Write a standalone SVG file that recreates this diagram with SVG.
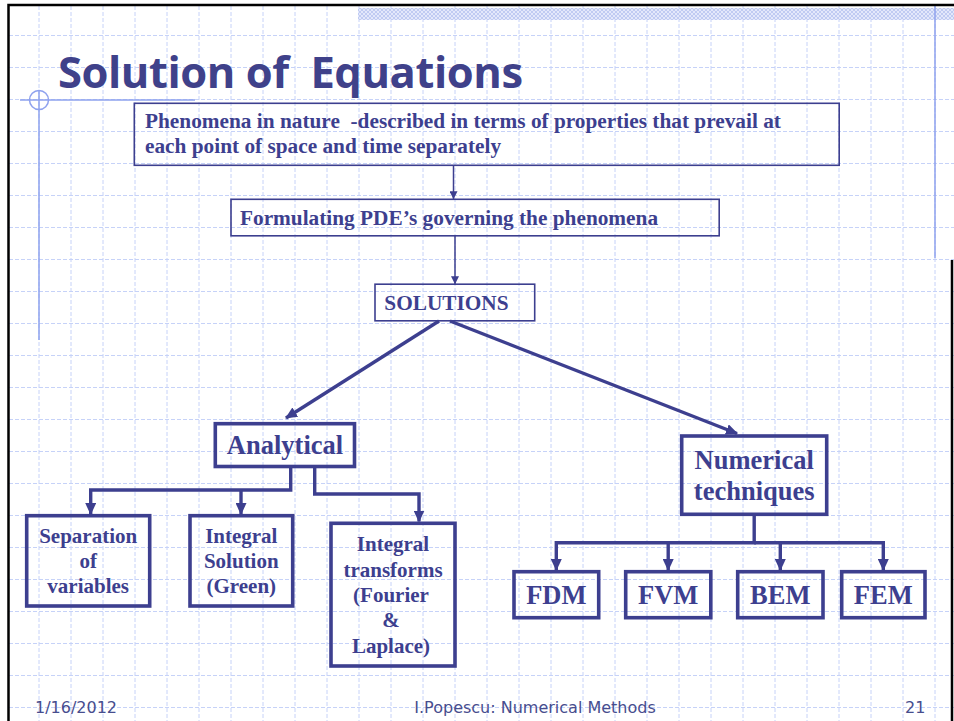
<svg xmlns="http://www.w3.org/2000/svg" width="954" height="721" viewBox="0 0 954 721">
  <style>
    text { white-space: pre; }
    .grid { fill: none; stroke: #c6d2f8; stroke-width: 1; stroke-dasharray: 4 2; }
    .deco { fill: none; stroke: #8fa2ee; stroke-width: 1.5; }
    .frame { fill: none; stroke: #000; stroke-width: 2.5; }
    .title { font-family: "Open Sans", "DejaVu Sans", sans-serif; font-weight: bold; font-size: 43.5px; fill: #3f418a; }
    .box-thin { fill: none; stroke: #3d3f8f; stroke-width: 1.6; }
    .box-thick { fill: none; stroke: #3d3f8f; stroke-width: 3.6; }
    .txt { font-family: "Liberation Serif", "Times New Roman", serif; font-weight: bold; font-size: 21px; fill: #3d3f8f; }
    .wide { font-size: 21.3px; }
    .big { font-size: 26.5px; }
    .mid { text-anchor: middle; }
    .link-thin { fill: none; stroke: #3d3f8f; stroke-width: 1.5; }
    .link-thick { fill: none; stroke: #3d3f8f; stroke-width: 3.4; }
    .foot { font-family: "DejaVu Sans", Verdana, sans-serif; font-size: 16px; fill: #474d8e; }
  </style>
  <defs>
    <pattern id="hatch" width="4" height="4" patternUnits="userSpaceOnUse">
      <rect width="4" height="4" fill="#e3e8fb"/>
      <path d="M0,0 L4,4 M4,0 L0,4" stroke="#b8c4f0" stroke-width="0.8"/>
    </pattern>
    <marker id="headThin" markerUnits="userSpaceOnUse" markerWidth="8" markerHeight="8" refX="8" refY="4" orient="auto">
      <path d="M0,0 L8,4 L0,8 z" fill="#3d3f8f"/>
    </marker>
    <marker id="headThick" markerUnits="userSpaceOnUse" markerWidth="12" markerHeight="11" refX="11" refY="5.5" orient="auto">
      <path d="M0,0 L12,5.5 L0,11 z" fill="#3d3f8f"/>
    </marker>
  </defs>

  <rect width="954" height="721" fill="#ffffff"/>

  <!-- graph-paper background -->
  <path class="grid" d="M39,6V721 M71,6V721 M103,6V721 M135,6V721 M167,6V721 M199,6V721 M231,6V721 M263,6V721 M295,6V721 M327,6V721 M359,6V721 M391,6V721 M423,6V721 M455,6V721 M487,6V721 M519,6V721 M551,6V721 M583,6V721 M615,6V721 M647,6V721 M679,6V721 M711,6V721 M743,6V721 M775,6V721 M807,6V721 M839,6V721 M871,6V721 M903,6V721 M935,6V721"/>
  <path class="grid" d="M9,35.5H954 M9,67.5H954 M9,99.5H954 M9,131.5H954 M9,163.5H954 M9,195.5H954 M9,227.5H954 M9,259.5H954 M9,291.5H954 M9,323.5H954 M9,355.5H954 M9,387.5H954 M9,419.5H954 M9,451.5H954 M9,483.5H954 M9,515.5H954 M9,547.5H954 M9,579.5H954 M9,611.5H954 M9,643.5H954 M9,675.5H954 M9,707.5H954"/>

  <!-- template ornaments -->
  <rect x="358" y="8" width="596" height="12" fill="url(#hatch)"/>
  <path class="deco" d="M935,6V258"/>
  <path class="deco" d="M20,100H195 M39,91V340"/>
  <circle class="deco" cx="39" cy="100" r="9.5"/>

  <!-- slide frame -->
  <path class="frame" d="M8.5,721V5H954"/>
  <path class="frame" d="M952,260V721"/>

  <text class="title" x="58" y="88" textLength="465" lengthAdjust="spacing" xml:space="preserve">Solution of  Equations</text>

  <!-- connectors -->
  <g id="connectors">
    <path class="link-thin" d="M453.5,165.3V199.3" marker-end="url(#headThin)"/>
    <path class="link-thin" d="M455,235.8V284.2" marker-end="url(#headThin)"/>
    <path class="link-thick" d="M439,321L286,418" marker-end="url(#headThick)"/>
    <path class="link-thick" d="M450,321L737,433.5" marker-end="url(#headThick)"/>
    <path class="link-thick" d="M290.7,466.5V490H90.7V514" marker-end="url(#headThick)"/>
    <path class="link-thick" d="M241,490V514" marker-end="url(#headThick)"/>
    <path class="link-thick" d="M314.7,466.5V494H419V521.5" marker-end="url(#headThick)"/>
    <path class="link-thick" d="M754.2,514.3V542.7H556.3V570" marker-end="url(#headThick)"/>
    <path class="link-thick" d="M754.2,542.7H883.3V570" marker-end="url(#headThick)"/>
    <path class="link-thick" d="M668.2,542.7V570" marker-end="url(#headThick)"/>
    <path class="link-thick" d="M780.3,542.7V570" marker-end="url(#headThick)"/>
  </g>

  <!-- nodes -->
  <g id="phenomena">
    <rect class="box-thin" x="134.3" y="103.3" width="704.9" height="62"/>
    <text class="txt wide" x="145" y="128.3" xml:space="preserve">Phenomena in nature  -described in terms of properties that prevail at</text>
    <text class="txt wide" x="145" y="153">each point of space and time separately</text>
  </g>
  <g id="formulating">
    <rect class="box-thin" x="231" y="199.3" width="488.2" height="36.5"/>
    <text class="txt wide" x="240" y="225">Formulating PDE’s governing the phenomena</text>
  </g>
  <g id="solutions">
    <rect class="box-thin" x="375" y="284.2" width="159.7" height="36.6"/>
    <text class="txt wide" x="384.3" y="310">SOLUTIONS</text>
  </g>
  <g id="analytical">
    <rect class="box-thick" x="215.3" y="423.7" width="139.2" height="42.8"/>
    <text class="txt big mid" x="285" y="454">Analytical</text>
  </g>
  <g id="separation">
    <rect class="box-thick" x="26.7" y="515.7" width="123" height="90.3"/>
    <text class="txt mid" x="88.2" y="543.3">Separation</text>
    <text class="txt mid" x="88.2" y="568.3">of</text>
    <text class="txt mid" x="88.2" y="593.3">variables</text>
  </g>
  <g id="integral-solution">
    <rect class="box-thick" x="190" y="515.7" width="102.7" height="90.3"/>
    <text class="txt mid" x="241.3" y="542.7">Integral</text>
    <text class="txt mid" x="241.3" y="568.3">Solution</text>
    <text class="txt mid" x="241.3" y="593.3">(Green)</text>
  </g>
  <g id="integral-transforms">
    <rect class="box-thick" x="331" y="523.3" width="124" height="142.7"/>
    <text class="txt mid" x="393" y="550.7">Integral</text>
    <text class="txt mid" x="393" y="576.7">transforms</text>
    <text class="txt mid" x="391" y="601.7">(Fourier</text>
    <text class="txt mid" x="391" y="627.3">&amp;</text>
    <text class="txt mid" x="391" y="653.3">Laplace)</text>
  </g>
  <g id="numerical">
    <rect class="box-thick" x="681.7" y="436" width="145" height="78.3"/>
    <text class="txt big mid" x="754.2" y="469.3">Numerical</text>
    <text class="txt big mid" x="754.2" y="500">techniques</text>
  </g>
  <g id="fdm">
    <rect class="box-thick" x="514" y="571.7" width="84.7" height="46"/>
    <text class="txt big mid" x="556.3" y="604">FDM</text>
  </g>
  <g id="fvm">
    <rect class="box-thick" x="625.7" y="571.7" width="85.1" height="46"/>
    <text class="txt big mid" x="668.2" y="604">FVM</text>
  </g>
  <g id="bem">
    <rect class="box-thick" x="737.7" y="571.7" width="85.3" height="46"/>
    <text class="txt big mid" x="780.3" y="604">BEM</text>
  </g>
  <g id="fem">
    <rect class="box-thick" x="841.7" y="571.7" width="83.3" height="46"/>
    <text class="txt big mid" x="883.3" y="604">FEM</text>
  </g>

  <!-- footer -->
  <text class="foot" x="35" y="713.3">1/16/2012</text>
  <text class="foot" x="414.3" y="713.3">I.Popescu: Numerical Methods</text>
  <text class="foot" x="905" y="713.3">21</text>
</svg>
